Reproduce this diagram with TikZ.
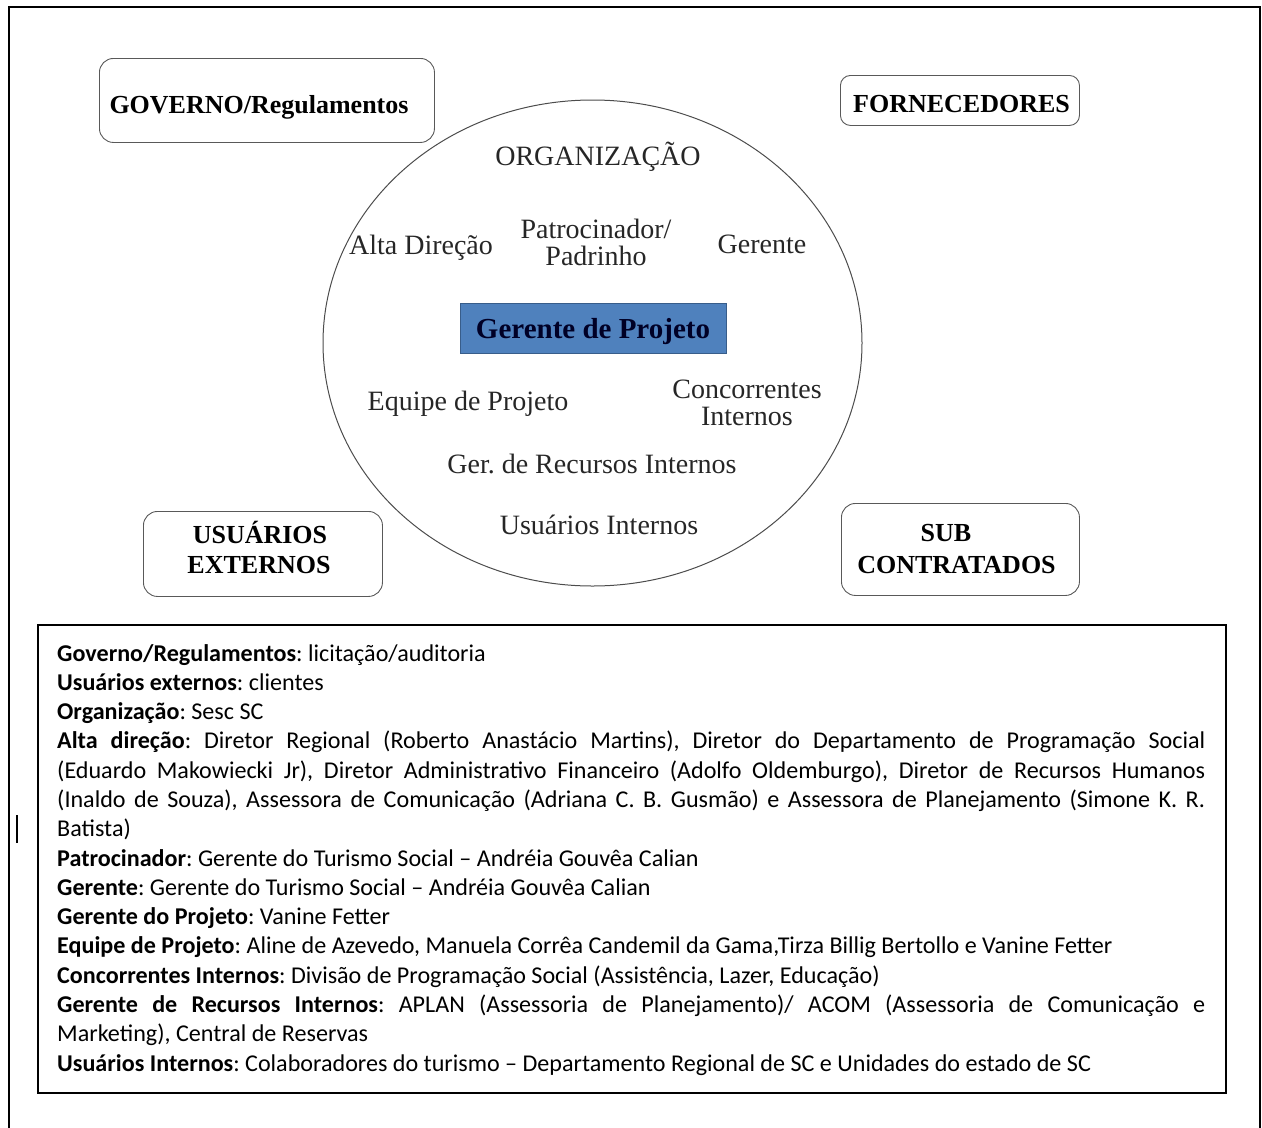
\documentclass[tikz,border=0pt]{standalone}
\usepackage{fontspec}
\setmainfont{Liberation Serif}
\newfontfamily\calfont{Carlito}
\usetikzlibrary{shapes.geometric}
\definecolor{pmblue}{HTML}{4F81BD}
\definecolor{pmblueb}{HTML}{385D8A}
\begin{document}
\frenchspacing
\begin{tikzpicture}[x=1pt,y=-1pt,
  extbox/.style={draw=black!65, line width=0.9pt, rounded corners=14pt, inner sep=0, anchor=north west},
  lab/.style={font=\fontsize{26}{30}\selectfont\bfseries, inner sep=0, anchor=base},
  inn/.style={font=\fontsize{28}{32}\selectfont, text=black!85, inner sep=0, anchor=base},
  ln/.style={font=\calfont\fontsize{24.1}{29}\selectfont, inner sep=0, anchor=base west}]
\useasboundingbox (0,0) rectangle (1262,1128);
% outer frame
\draw[line width=2pt] (9,1128) -- (9,7) -- (1260,7) -- (1260,1128);
% organisation ellipse
\node[ellipse, draw=black!70, line width=1pt, minimum width=539, minimum height=486, inner sep=0] (org) at (592.5,343) {};
% outer boxes
\node[extbox, minimum width=335, minimum height=84] (gov) at (99,58) {};
\node[lab] (govt) at (259,113) {GOVERNO/Regulamentos};
\node[extbox, rounded corners=10pt, minimum width=239, minimum height=50] (forn) at (840,75) {};
\node[lab] (fornt) at (961.5,112) {FORNECEDORES};
\node[extbox, minimum width=239, minimum height=85] (usu) at (143,511) {};
\node[lab] (usut1) at (260,543) {USUÁRIOS};
\node[lab] (usut2) at (259,573) {EXTERNOS};
\node[extbox, minimum width=238, minimum height=92] (sub) at (841,503) {};
\node[lab] (subt1) at (946,541) {SUB};
\node[lab] (subt2) at (956.5,573) {CONTRATADOS};
% project manager
\node[fill=pmblue, draw=pmblueb, line width=1pt, minimum width=266, minimum height=50, inner sep=0, anchor=north west] (gp) at (460,303) {};
\node[lab, font=\fontsize{29}{32}\selectfont\bfseries, text=black!85!blue] (gpt) at (593,338) {Gerente de Projeto};
% inner labels
\node[inn] (orgt) at (598,165) {ORGANIZAÇÃO};
\node[inn] (alta) at (421,254) {Alta Direção};
\node[inn] (pat1) at (596,238) {Patrocinador/};
\node[inn] (pat2) at (596,265) {Padrinho};
\node[inn] (ger) at (762,253) {Gerente};
\node[inn] (equ) at (468,410) {Equipe de Projeto};
\node[inn] (con1) at (747,398) {Concorrentes};
\node[inn] (con2) at (747,425) {Internos};
\node[inn] (rec) at (592,473) {Ger. de Recursos Internos};
\node[inn] (uin) at (599,534) {Usuários Internos};
% legend box
\node[draw, line width=1.8pt, minimum width=1188, minimum height=468, inner sep=0, anchor=north west] (leg) at (37,624) {};
\draw[line width=1.5pt] (17,815) -- (17,843);
\node[ln] (l1) at (57,661) {\textbf{Governo/Regulamentos}: licitação/auditoria};
\node[ln] (l2) at (57,690.3) {\textbf{Usuários externos}: clientes};
\node[ln] (l3) at (57,719.6) {\textbf{Organização}: Sesc SC};
\node[ln] (l4) at (57,748.9) {\makebox[1148pt][s]{\textbf{Alta direção}: Diretor Regional (Roberto Anastácio Martins), Diretor do Departamento de Programação Social}};
\node[ln] (l5) at (57,778.2) {\makebox[1148pt][s]{(Eduardo Makowiecki Jr), Diretor Administrativo Financeiro (Adolfo Oldemburgo), Diretor de Recursos Humanos}};
\node[ln] (l6) at (57,807.5) {\makebox[1148pt][s]{(Inaldo de Souza), Assessora de Comunicação (Adriana C. B. Gusmão) e Assessora de Planejamento (Simone K. R.}};
\node[ln] (l7) at (57,836.7) {Batista)};
\node[ln] (l8) at (57,866.0) {\textbf{Patrocinador}: Gerente do Turismo Social – Andréia Gouvêa Calian};
\node[ln] (l9) at (57,895.3) {\textbf{Gerente}: Gerente do Turismo Social – Andréia Gouvêa Calian};
\node[ln] (l10) at (57,924.6) {\textbf{Gerente do Projeto}: Vanine Fetter};
\node[ln] (l11) at (57,953.9) {\textbf{Equipe de Projeto}: Aline de Azevedo, Manuela Corrêa Candemil da Gama,Tirza Billig Bertollo e Vanine Fetter};
\node[ln] (l12) at (57,983.2) {\textbf{Concorrentes Internos}: Divisão de Programação Social (Assistência, Lazer, Educação)};
\node[ln] (l13) at (57,1012.5) {\makebox[1148pt][s]{\textbf{Gerente de Recursos Internos}: APLAN (Assessoria de Planejamento)/ ACOM (Assessoria de Comunicação e}};
\node[ln] (l14) at (57,1041.8) {Marketing), Central de Reservas};
\node[ln] (l15) at (57,1071.1) {\textbf{Usuários Internos}: Colaboradores do turismo – Departamento Regional de SC e Unidades do estado de SC};
\end{tikzpicture}
\end{document}
